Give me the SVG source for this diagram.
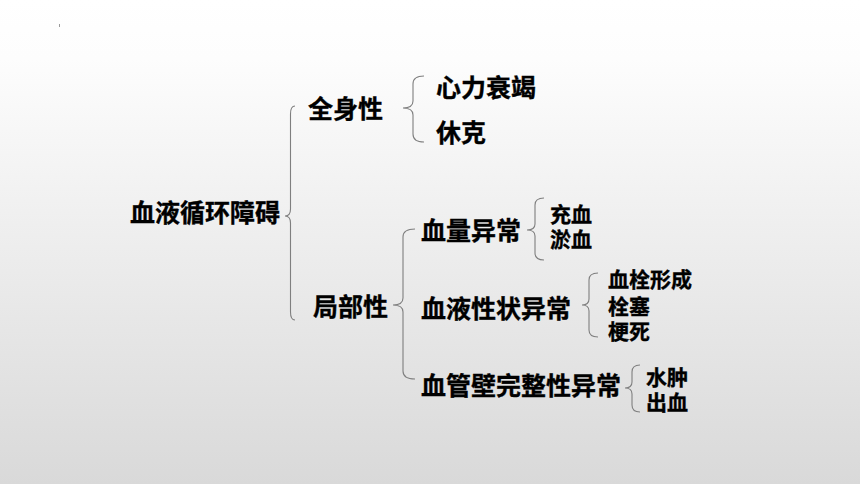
<svg xmlns="http://www.w3.org/2000/svg" width="860" height="484" viewBox="0 0 860 484">
<defs>
<linearGradient id="bg" x1="0" y1="0" x2="0" y2="1">
<stop offset="0" stop-color="#ffffff"/>
<stop offset="0.12" stop-color="#fdfdfd"/>
<stop offset="1" stop-color="#d9d9d9"/>
</linearGradient>
<style>
.t{font-family:"Noto Sans CJK SC","Noto Sans",sans-serif;font-weight:bold;fill:#000;stroke:#000;stroke-width:0.35;}
.l{font-size:25px;}
.s{font-size:21px;}
.br{fill:none;stroke:#7f7f7f;stroke-width:1.1;}
</style>
</defs>
<rect width="860" height="484" fill="url(#bg)"/>
<rect x="59" y="24" width="1" height="3" fill="#9a9a9a"/>
<g id="connectors">
<path class="br" d="M295,106 Q290.5,106 290.5,114 L290.5,209 Q290.5,216 285,216 Q290.5,216 290.5,223 L290.5,312 Q290.5,320 295,320"/>
<path class="br" d="M424,76 Q413,76 413,84 L413,101 Q413,108 403,108 Q413,108 413,115 L413,134 Q413,142 424,142"/>
<path class="br" d="M415,229 Q403,229 403,237 L403,298 Q403,305 393,305 Q403,305 403,312 L403,371 Q403,379 415,379"/>
<path class="br" d="M544,198 Q535,198 535,205 L535,224 Q535,230 527,230 Q535,230 535,236 L535,253 Q535,260 544,260"/>
<path class="br" d="M598,273 Q589,273 589,280 L589,299 Q589,305 582,305 Q589,305 589,311 L589,330 Q589,337 598,337"/>
<path class="br" d="M640,365 Q632,365 632,372 L632,382 Q632,388 625,388 Q632,388 632,394 L632,405 Q632,412 640,412"/>
</g>
<g id="root"><text class="t l" x="130" y="222">血液循环障碍</text></g>
<g id="quanshen"><text class="t l" x="308" y="118">全身性</text></g>
<g id="xinli"><text class="t l" x="436" y="97">心力衰竭</text></g>
<g id="xiuke"><text class="t l" x="436" y="142">休克</text></g>
<g id="jubu"><text class="t l" x="313" y="316">局部性</text></g>
<g id="xueliang"><text class="t l" x="421" y="240">血量异常</text></g>
<g id="chongxue"><text class="t s" x="550" y="222">充血</text></g>
<g id="yuxue"><text class="t s" x="550" y="247">淤血</text></g>
<g id="xueye"><text class="t l" x="421" y="318">血液性状异常</text></g>
<g id="xueshuan"><text class="t s" x="608" y="287">血栓形成</text></g>
<g id="shuanse"><text class="t s" x="608" y="314">栓塞</text></g>
<g id="gengsi"><text class="t s" x="608" y="339">梗死</text></g>
<g id="xueguan"><text class="t l" x="421" y="395">血管壁完整性异常</text></g>
<g id="shuizhong"><text class="t s" x="646" y="385">水肿</text></g>
<g id="chuxue"><text class="t s" x="646" y="410">出血</text></g>
</svg>
